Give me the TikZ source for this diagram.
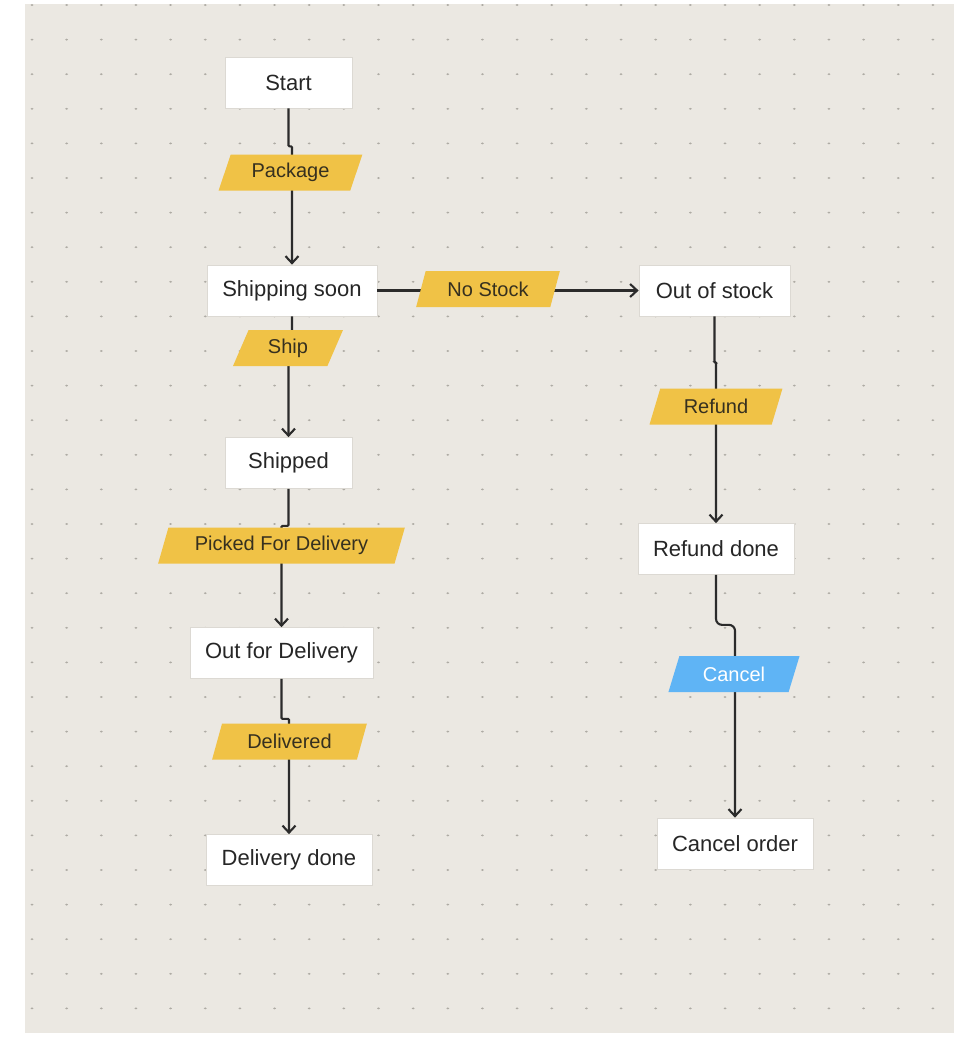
\documentclass[tikz,border=0pt]{standalone}
\usepackage{fontspec}
\setmainfont{Liberation Sans}
\usetikzlibrary{shapes.geometric,arrows.meta}

\definecolor{panel}{HTML}{EBE8E2}
\definecolor{gridDot}{HTML}{AEABA4}
\definecolor{boxline}{HTML}{DCD9D3}
\definecolor{ink}{HTML}{262626}
\definecolor{lineink}{HTML}{2B2B2B}
\definecolor{evyellow}{HTML}{F0C246}
\definecolor{evink}{HTML}{36301F}
\definecolor{evblue}{HTML}{5FB4F5}

\begin{document}
\begin{tikzpicture}[x=1pt,y=-1pt,
  state/.style={draw=boxline, line width=0.7pt, fill=white,
    minimum width=#1, minimum height=51pt, inner sep=0pt,
    text=ink, font=\fontsize{22}{26}\selectfont},
  event/.style={trapezium, trapezium left angle=67, trapezium right angle=113,
    trapezium stretches=true, fill=evyellow, draw=none,
    minimum width=#1, minimum height=36pt, inner sep=0pt,
    text=evink, font=\fontsize{20}{24}\selectfont},
  conn/.style={draw=lineink, line width=2.1pt, rounded corners=1pt,
    -{Straight Barb[length=7pt,width=13pt]}}
]
% canvas and dotted grid
\useasboundingbox (0,0) rectangle (963,1037);
\fill[white] (0,0) rectangle (963,1037);
\fill[panel] (25,4) rectangle (954,1033);
\foreach \i in {0,...,26}
  \foreach \j in {0,...,29}
    \fill[gridDot] (32+\i*34.65, 5+\j*34.6) ellipse (1.5 and 1.0);

% states
\node[state=127] (start)     at (288.5, 82.5) {Start};
\node[state=170] (shipsoon)  at (292, 290.5)  {Shipping soon};
\node[state=151] (outstock)  at (714.5, 290.5) {Out of stock};
\node[state=127] (shipped)   at (288.5, 463)  {Shipped};
\node[state=183] (outdel)    at (281.5, 653)  {Out for Delivery};
\node[state=166] (deldone)   at (289, 860)    {Delivery done};
\node[state=156] (refdone)   at (716, 549)    {Refund done};
\node[state=156] (cancelord) at (735, 843.5)  {Cancel order};

% transitions
\draw[conn] (start.south) -- ++(0,38) -| (shipsoon.north);
\draw[conn] (shipsoon.south) -- ++(0,31) -| (shipped.north);
\draw[conn] (shipped.south) -- ++(0,37) -| (outdel.north);
\draw[conn] (outdel.south) -- ++(0,40) -| (deldone.north);
\draw[conn] (shipsoon.east) -- (outstock.west);
\draw[conn] (outstock.south) -- ++(0,46) -| (refdone.north);
\draw[conn, rounded corners=6pt] (refdone.south) -- ++(0,50) -| (cancelord.north);

% transition labels
\node[event=145] (package)   at (290.5, 172.5) {Package};
\node[event=110] (ship)      at (288, 348)     {Ship};
\node[event=145] (nostock)   at (488, 289)     {No Stock};
\node[event=134] (refund)    at (716, 406.5)   {Refund};
\node[event=247] (picked)    at (281.5, 545.5) {Picked For Delivery};
\node[event=155] (delivered) at (289.5, 741.5) {Delivered};
\node[event=132, fill=evblue, text=white] (cancel) at (734, 674) {Cancel};
\end{tikzpicture}
\end{document}
